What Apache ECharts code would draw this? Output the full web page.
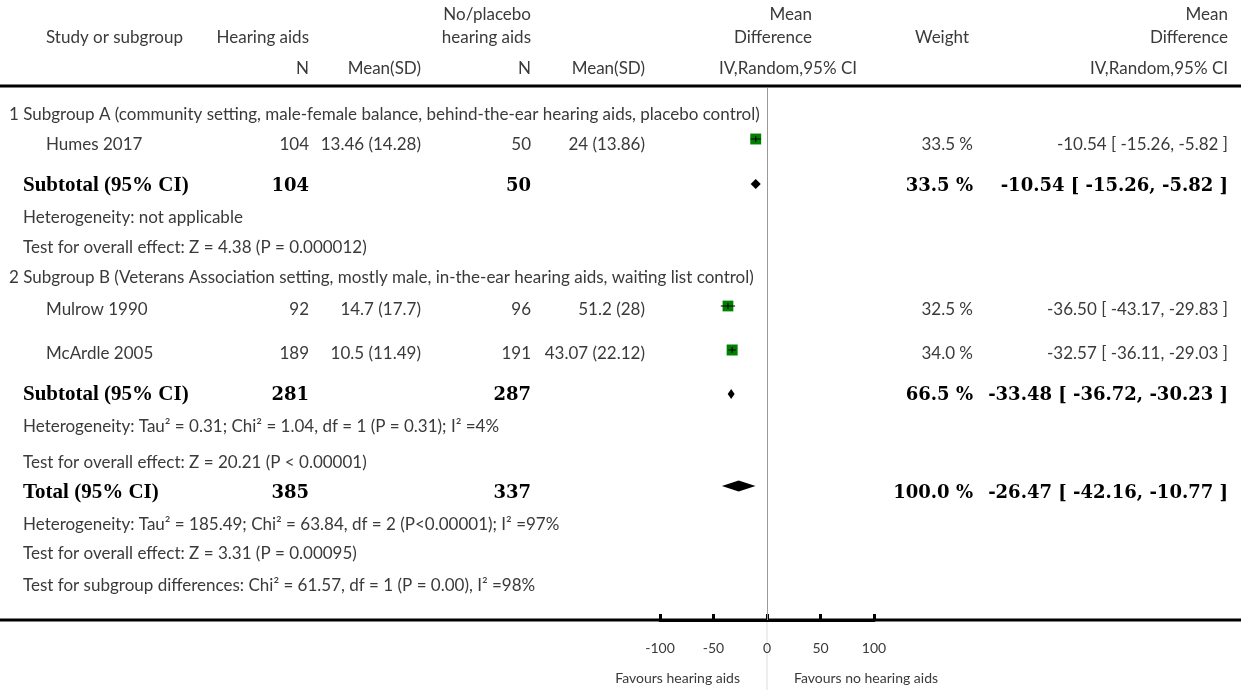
<!DOCTYPE html>
<html>
<head>
<meta charset="utf-8">
<script src="https://cdn.jsdelivr.net/npm/echarts@6/dist/echarts.min.js"></script>
<style>
  html, body { margin: 0; padding: 0; background: #fff; }
  #chart { width: 1241px; height: 690px; }
</style>
</head>
<body>
<div id="chart"></div>
<script>
// 研究数据
const studies = ["Humes 2017", "Mulrow 1990", "McArdle 2005"];
const haN = [104, 92, 189];
const haMeanSD = ["13.46 (14.28)", "14.7 (17.7)", "10.5 (11.49)"];
const ctlN = [50, 96, 191];
const ctlMeanSD = ["24 (13.86)", "51.2 (28)", "43.07 (22.12)"];
const md = [-10.54, -36.5, -32.57];
const ciLow = [-15.26, -43.17, -36.11];
const ciHigh = [-5.82, -29.83, -29.03];
const weight = [33.5, 32.5, 34.0];

// 合并结果 (subtotal A, subtotal B, total)
const pooledLabels = ["Subtotal (95% CI)", "Subtotal (95% CI)", "Total (95% CI)"];
const pooledHaN = [104, 281, 385];
const pooledCtlN = [50, 287, 337];
const pooledMd = [-10.54, -33.48, -26.47];
const pooledLow = [-15.26, -36.72, -42.16];
const pooledHigh = [-5.82, -30.23, -10.77];
const pooledWeight = [33.5, 66.5, 100.0];

const subgroupTitles = [
  "1 Subgroup A (community setting, male-female balance, behind-the-ear hearing aids, placebo control)",
  "2 Subgroup B (Veterans Association setting, mostly male, in-the-ear hearing aids, waiting list control)"
];
const notes = [
  "Heterogeneity: not applicable",
  "Test for overall effect: Z = 4.38 (P = 0.000012)",
  "Heterogeneity: Tau² = 0.31; Chi² = 1.04, df = 1 (P = 0.31); I² =4%",
  "Test for overall effect: Z = 20.21 (P < 0.00001)",
  "Heterogeneity: Tau² = 185.49; Chi² = 63.84, df = 2 (P<0.00001); I² =97%",
  "Test for overall effect: Z = 3.31 (P = 0.00095)",
  "Test for subgroup differences: Chi² = 61.57, df = 1 (P = 0.00), I² =98%"
];
const xTicks = [-100, -50, 0, 50, 100];

// 布局 (行的纵向位置, 列的横向位置)
const studyRowY = [143, 308, 352];
const studyMarkY = [139, 306, 350];
const pooledRowY = [185, 394, 492];
const pooledMarkY = [184, 394, 486];
const titleRowY = [113, 276];
const noteRowY = [216, 246, 425, 461, 523, 552, 584];
const col = { title: 9, study: 46, note: 23, haN: 309, haMean: 421, ctlN: 531, ctlMean: 645, weight: 973, ci: 1228 };

const sans = "Lato, 'Open Sans', sans-serif";
const serif = "'Liberation Serif', serif";
const serifNum = "'DejaVu Serif', serif";
const txtColor = "#3a3a3a";

function fmt2(v) { return v.toFixed(2); }
function ciText(m, l, h) { return fmt2(m) + " [ " + fmt2(l) + ", " + fmt2(h) + " ]"; }

// kind: undefined 普通, "b" 粗体文字, "bn" 粗体数字
function txt(x, y, s, align, kind, size) {
  var font = (size || 17) + "px " + sans;
  var dy = 2;
  if (kind === "b") { font = "bold 21px " + serif; dy = 1; }
  if (kind === "bn") { font = "bold 18px " + serifNum; dy = 1; }
  return {
    type: "text", x: x, y: y + dy, silent: true,
    style: {
      text: s, align: align || "left", verticalAlign: "middle",
      fill: kind ? "#000" : txtColor,
      font: font
    }
  };
}

var chart = echarts.init(document.getElementById("chart"));
var graphics = [];

// 表头
graphics.push(txt(col.study, 36, "Study or subgroup"));
graphics.push(txt(col.haN, 36, "Hearing aids", "right"));
graphics.push(txt(col.haN, 67, "N", "right"));
graphics.push(txt(col.haMean, 67, "Mean(SD)", "right"));
graphics.push(txt(col.ctlN, 13, "No/placebo", "right"));
graphics.push(txt(col.ctlN, 36, "hearing aids", "right"));
graphics.push(txt(col.ctlN, 67, "N", "right"));
graphics.push(txt(col.ctlMean, 67, "Mean(SD)", "right"));
graphics.push(txt(812, 13, "Mean", "right"));
graphics.push(txt(812, 36, "Difference", "right"));
graphics.push(txt(857, 67, "IV,Random,95% CI", "right"));
graphics.push(txt(942, 36, "Weight", "center"));
graphics.push(txt(col.ci, 13, "Mean", "right"));
graphics.push(txt(col.ci, 36, "Difference", "right"));
graphics.push(txt(col.ci, 67, "IV,Random,95% CI", "right"));

// 粗横线
graphics.push({ type: "line", silent: true, shape: { x1: 0, y1: 86, x2: 1241, y2: 86 }, style: { stroke: "#000", lineWidth: 3 } });
graphics.push({ type: "line", silent: true, shape: { x1: 0, y1: 620, x2: 1241, y2: 620 }, style: { stroke: "#000", lineWidth: 3 } });

subgroupTitles.forEach(function (s, i) { graphics.push(txt(col.title, titleRowY[i], s)); });
notes.forEach(function (s, i) { graphics.push(txt(col.note, noteRowY[i], s)); });

studies.forEach(function (s, i) {
  var y = studyRowY[i];
  graphics.push(txt(col.study, y, s));
  graphics.push(txt(col.haN, y, String(haN[i]), "right"));
  graphics.push(txt(col.haMean, y, haMeanSD[i], "right"));
  graphics.push(txt(col.ctlN, y, String(ctlN[i]), "right"));
  graphics.push(txt(col.ctlMean, y, ctlMeanSD[i], "right"));
  graphics.push(txt(col.weight, y, weight[i].toFixed(1) + " %", "right"));
  graphics.push(txt(col.ci, y, ciText(md[i], ciLow[i], ciHigh[i]), "right"));
});

pooledLabels.forEach(function (s, i) {
  var y = pooledRowY[i];
  graphics.push(txt(col.note, y, s, "left", "b"));
  graphics.push(txt(col.haN, y, String(pooledHaN[i]), "right", "bn"));
  graphics.push(txt(col.ctlN, y, String(pooledCtlN[i]), "right", "bn"));
  graphics.push(txt(col.weight, y, pooledWeight[i].toFixed(1) + " %", "right", "bn"));
  graphics.push(txt(col.ci, y, ciText(pooledMd[i], pooledLow[i], pooledHigh[i]), "right", "bn"));
});

graphics.push(txt(740, 676, "Favours hearing aids", "right", undefined, 14));
graphics.push(txt(794, 676, "Favours no hearing aids", "left", undefined, 14));

var option = {
  animation: false,
  backgroundColor: "#fff",
  grid: { left: 660, right: 367, top: 88, bottom: 70 },
  xAxis: {
    type: "value",
    min: -100,
    max: 100,
    interval: 50,
    splitLine: { show: false },
    axisLine: { lineStyle: { color: "#000", width: 3 } },
    axisTick: { inside: true, length: 6, lineStyle: { color: "#000", width: 3 } },
    axisLabel: { margin: 21, color: txtColor, fontSize: 14, fontFamily: sans }
  },
  yAxis: { type: "value", min: 88, max: 620, inverse: true, show: false },
  graphic: graphics,
  series: [
    {
      name: "studies",
      type: "custom",
      silent: true,
      data: studies.map(function (s, i) { return [md[i], ciLow[i], ciHigh[i], weight[i], i]; }),
      renderItem: function (params, api) {
        var i = api.value(4);
        var y = studyMarkY[i];
        var c = api.coord([api.value(0), y]);
        var lo = api.coord([api.value(1), y]);
        var hi = api.coord([api.value(2), y]);
        var s = 11 * Math.sqrt(api.value(3) / 34);
        return {
          type: "group",
          children: [
            { type: "rect", shape: { x: c[0] - s / 2, y: c[1] - s / 2, width: s, height: s }, style: { fill: "#008000" } },
            { type: "line", shape: { x1: lo[0], y1: c[1], x2: hi[0], y2: c[1] }, style: { stroke: "#000", lineWidth: 1 } },
            { type: "line", shape: { x1: c[0], y1: c[1] - 3, x2: c[0], y2: c[1] + 3 }, style: { stroke: "#000", lineWidth: 1 } }
          ]
        };
      },
      markLine: {
        silent: true,
        symbol: "none",
        label: { show: false },
        lineStyle: { color: "#999", width: 1, type: "solid" },
        data: [{ xAxis: 0 }]
      }
    },
    {
      name: "pooled",
      type: "custom",
      silent: true,
      data: pooledMd.map(function (m, i) { return [m, pooledLow[i], pooledHigh[i], i]; }),
      renderItem: function (params, api) {
        var i = api.value(3);
        var y = pooledMarkY[i];
        var c = api.coord([api.value(0), y]);
        var lo = api.coord([api.value(1), y]);
        var hi = api.coord([api.value(2), y]);
        var h = i === 2 ? 11 : 10;
        return {
          type: "polygon",
          shape: { points: [[lo[0], c[1]], [c[0], c[1] - h / 2], [hi[0], c[1]], [c[0], c[1] + h / 2]] },
          style: { fill: "#000" }
        };
      }
    }
  ]
};
chart.setOption(option);

// 零线在坐标轴下方的浅色延伸
var x0 = chart.convertToPixel({ xAxisIndex: 0 }, 0);
graphics.push({ type: "line", silent: true, shape: { x1: x0, y1: 622, x2: x0, y2: 690 }, style: { stroke: "#ddd", lineWidth: 1 } });
chart.setOption({ graphic: graphics });
</script>
</body>
</html>
